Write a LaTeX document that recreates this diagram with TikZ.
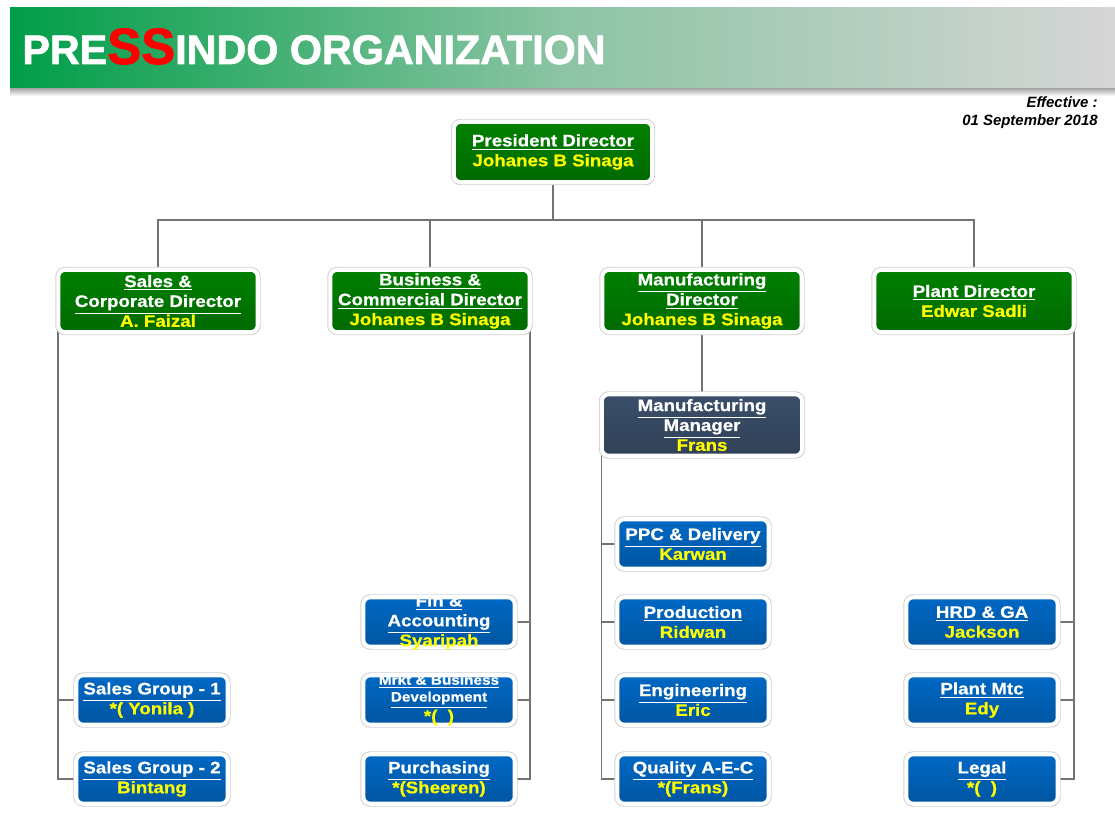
\documentclass[tikz,border=0pt]{standalone}
\usepackage{fontspec}
\setmainfont{Liberation Sans}
\newfontfamily\boxfont{Liberation Sans}[FakeStretch=1.12,BoldFeatures={FakeBold=0.6}]
\newfontfamily\titlefont{Liberation Sans}[BoldFeatures={FakeBold=1.6}]
\usetikzlibrary{shadows,backgrounds,positioning}

\definecolor{dirgreen}{RGB}{0,128,0}
\definecolor{mgrslate}{RGB}{59,79,106}
\definecolor{unitblue}{RGB}{0,104,196}
\definecolor{bannergreen}{RGB}{0,158,72}
\definecolor{bannermid}{RGB}{140,196,164}
\definecolor{bannergrey}{RGB}{214,214,214}
\definecolor{titlered}{RGB}{255,0,0}
\definecolor{namegold}{RGB}{255,255,0}

\begin{document}
\begin{tikzpicture}[x=0.02cm,y=-0.02cm,
    box/.style={rounded corners=4pt,draw=white,line width=2.3pt,align=center,
      text=white,inner sep=1pt,
      font=\boxfont\bfseries\fontsize{9.5}{11.3}\selectfont,
      preaction={draw=black!18,line width=3.4pt},
      drop shadow={shadow xshift=0.8pt,shadow yshift=-1pt,opacity=0.35}},
    dirbox/.style={box,top color=dirgreen,middle color=dirgreen,bottom color=dirgreen!82!black,
      minimum width=3.99cm,minimum height=1.25cm},
    mgrbox/.style={box,top color=mgrslate,middle color=mgrslate,bottom color=mgrslate!82!black,
      minimum width=4.01cm,minimum height=1.23cm},
    unitbox/.style={box,top color=unitblue,middle color=unitblue,bottom color=unitblue!82!black,
      minimum width=3.03cm,minimum height=0.99cm},
    link/.style={draw=black!55,line width=0.6pt}]
  \useasboundingbox (0,0) rectangle (1115,830);

  % title banner
  \shade[top color=black!45,bottom color=white] (10,86) rectangle (1115,96);
  \shade[left color=bannergreen,right color=bannergrey,middle color=bannermid]
    (10,8) rectangle (1115,88);
  \node[anchor=base west,text=white,inner sep=0pt,
    font=\titlefont\bfseries\fontsize{23.5}{24}\selectfont] (title) at (22,64)
    {PRE{\color{titlered}\fontsize{29}{29}\selectfont SS}INDO ORGANIZATION};
  \node[anchor=north east,align=right,inner sep=0pt,
    font=\bfseries\itshape\fontsize{8.5}{10.3}\selectfont] (eff) at (1098,96)
    {Effective :\\01 September 2018};

  % directors
  \node[dirbox,minimum width=3.97cm,minimum height=1.21cm] (pres) at (553,152)
    {\underline{President Director}\\\textcolor{namegold}{Johanes B Sinaga}};
  \node[dirbox] (sales) at (158,301)
    {\underline{Sales \&}\\\underline{Corporate Director}\\\textcolor{namegold}{A. Faizal}};
  \node[dirbox] (commerce) at (430,301)
    {\underline{Business \&}\\\underline{Commercial Director}\\\textcolor{namegold}{Johanes B Sinaga}};
  \node[dirbox] (mfgdir) at (702,301)
    {\underline{Manufacturing}\\\underline{Director}\\\textcolor{namegold}{Johanes B Sinaga}};
  \node[dirbox] (plant) at (974,301)
    {\underline{Plant Director}\\\textcolor{namegold}{Edwar Sadli}};
  \node[mgrbox] (mfgmgr) at (702,425)
    {\underline{Manufacturing}\\\underline{Manager}\\\textcolor{namegold}{Frans}};

  % sales groups
  \node[unitbox] (sales1) at (152,700)
    {\underline{Sales Group - 1}\\\textcolor{namegold}{*( Yonila )}};
  \node[unitbox] (sales2) at (152,779)
    {\underline{Sales Group - 2}\\\textcolor{namegold}{Bintang}};

  % business units
  \node[unitbox,inner ysep=-2pt] (finacc) at (439,622)
    {\underline{Fin \&}\\\underline{Accounting}\\\textcolor{namegold}{Syaripah}};
  \node[unitbox,inner ysep=-1pt,font=\boxfont\bfseries\fontsize{7.8}{9.6}\selectfont] (mrkt) at (439,700)
    {\underline{Mrkt \& Business}\\\underline{Development}\\\textcolor{namegold}{\fontsize{9.5}{9.6}\selectfont*(\ \ )}};
  \node[unitbox] (purch) at (439,779)
    {\underline{Purchasing}\\\textcolor{namegold}{*(Sheeren)}};

  % manufacturing units
  \node[unitbox] (ppc) at (693,544)
    {\underline{PPC \& Delivery}\\\textcolor{namegold}{Karwan}};
  \node[unitbox] (prod) at (693,622)
    {\underline{Production}\\\textcolor{namegold}{Ridwan}};
  \node[unitbox] (eng) at (693,700)
    {\underline{Engineering}\\\textcolor{namegold}{Eric}};
  \node[unitbox] (qa) at (693,779)
    {\underline{Quality A-E-C}\\\textcolor{namegold}{*(Frans)}};

  % plant units
  \node[unitbox] (hrd) at (982,622)
    {\underline{HRD \& GA}\\\textcolor{namegold}{Jackson}};
  \node[unitbox] (plantmtc) at (982,700)
    {\underline{Plant Mtc}\\\textcolor{namegold}{Edy}};
  \node[unitbox] (legal) at (982,779)
    {\underline{Legal}\\\textcolor{namegold}{*(\ \ )}};

  \begin{pgfonlayer}{background}
    \coordinate (bus) at (553,220);
    \coordinate (salesbus) at ([xshift=1pt]sales.west);
    \coordinate (commbus) at ([xshift=-1pt]commerce.east);
    \coordinate (mfgbus) at ([xshift=1pt]mfgmgr.west);
    \coordinate (plantbus) at ([xshift=-1pt]plant.east);
    % top level
    \draw[link] (pres) -- (pres |- bus);
    \draw[link] (sales) |- (bus) -| (plant);
    \draw[link] (commerce) -- (commerce |- bus);
    \draw[link] (mfgdir) -- (mfgdir |- bus);
    \draw[link] (mfgdir) -- (mfgmgr);
    % sales
    \draw[link] (salesbus) |- (sales2.west);
    \draw[link] (sales1.west) -- (sales1.west -| salesbus);
    % business
    \draw[link] (commbus) |- (purch.east);
    \draw[link] (finacc.east) -- (finacc.east -| commbus);
    \draw[link] (mrkt.east) -- (mrkt.east -| commbus);
    % manufacturing
    \draw[link] (mfgbus) |- (qa.west);
    \draw[link] (ppc.west) -- (ppc.west -| mfgbus);
    \draw[link] (prod.west) -- (prod.west -| mfgbus);
    \draw[link] (eng.west) -- (eng.west -| mfgbus);
    % plant
    \draw[link] (plantbus) |- (legal.east);
    \draw[link] (hrd.east) -- (hrd.east -| plantbus);
    \draw[link] (plantmtc.east) -- (plantmtc.east -| plantbus);
  \end{pgfonlayer}
\end{tikzpicture}
\end{document}
